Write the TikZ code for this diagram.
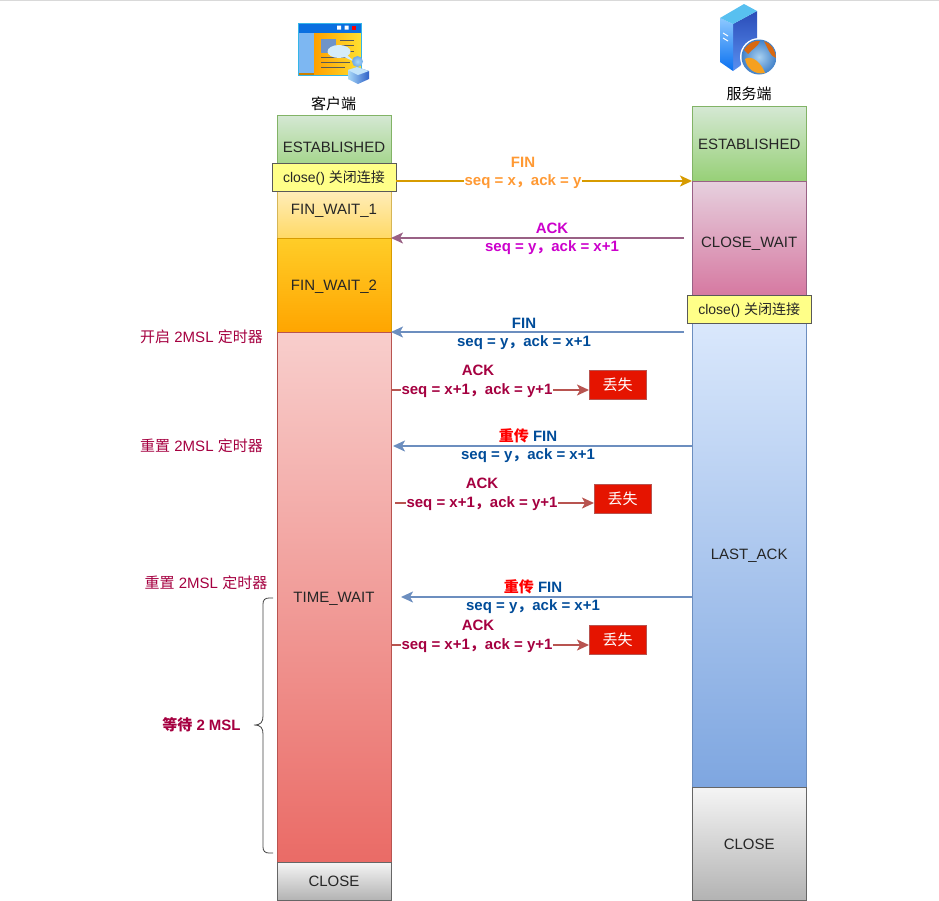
\documentclass[tikz,border=0pt]{standalone}
\usepackage{fontspec}
\setmainfont{Liberation Sans}
\newfontfamily\cjk{Noto Sans CJK SC}
\usetikzlibrary{arrows.meta,calc}
\definecolor{ackred}{HTML}{A50040}
\definecolor{finblue}{HTML}{004C99}
\definecolor{myyellow}{HTML}{FFFF88}
\definecolor{b85}{HTML}{B85450}
\definecolor{lostred}{HTML}{E51400}
\definecolor{finor}{HTML}{FF9933}
\definecolor{ackm}{HTML}{CC00CC}
\definecolor{gA}{HTML}{D5E8D4}\definecolor{gB}{HTML}{97D077}\definecolor{gC}{HTML}{82B366}
\definecolor{yA}{HTML}{FFF2CC}\definecolor{yB}{HTML}{FFD966}\definecolor{yC}{HTML}{D6B656}
\definecolor{oA}{HTML}{FFCD28}\definecolor{oB}{HTML}{FFA500}\definecolor{oC}{HTML}{D79B00}
\definecolor{rA}{HTML}{F8CECC}\definecolor{rB}{HTML}{EA6B66}
\definecolor{kA}{HTML}{F5F5F5}\definecolor{kB}{HTML}{B3B3B3}\definecolor{kC}{HTML}{666666}
\definecolor{pA}{HTML}{E6D0DE}\definecolor{pB}{HTML}{D5739D}\definecolor{pC}{HTML}{996185}
\definecolor{bA}{HTML}{DAE8FC}\definecolor{bB}{HTML}{7EA6E0}\definecolor{bC}{HTML}{6C8EBF}
\definecolor{winbar}{HTML}{0A6FE0}\definecolor{winside}{HTML}{7DB7F2}\definecolor{winline}{HTML}{35B5E8}
\definecolor{winor}{HTML}{FFA000}\definecolor{winyl}{HTML}{FFE030}\definecolor{winpic}{HTML}{6F94C8}
\definecolor{bubble}{HTML}{D5ECF8}\definecolor{pHead}{HTML}{6FA8E8}\definecolor{pBodyA}{HTML}{A8D8F8}\definecolor{pBodyB}{HTML}{2F62C8}
\definecolor{srvA}{HTML}{2A4CB8}\definecolor{srvB}{HTML}{5A90F0}\definecolor{srvC}{HTML}{8CC8FF}\definecolor{srvD}{HTML}{0A70F0}\definecolor{srvT}{HTML}{58C0F0}
\definecolor{globeA}{HTML}{A8D0F0}\definecolor{globeB}{HTML}{4080C8}\definecolor{land}{HTML}{F5A020}\definecolor{landd}{HTML}{D86810}
\tikzset{
 blk/.style n args={3}{draw=#3,top color=#1,bottom color=#2,line width=.8pt,inner sep=0pt,outer sep=0pt,minimum width=114pt,anchor=north west,font=\fontsize{15}{17}\selectfont,text=black!85,text height=11pt,text depth=0pt},
 closebox/.style={draw=black!65,fill=myyellow,line width=.8pt,minimum width=124pt,minimum height=28pt,inner sep=0pt,outer sep=0pt,font=\fontsize{14}{16}\selectfont,text=black!85,text height=11pt,text depth=0pt},
 lost/.style={draw=b85,fill=lostred,text=white,minimum width=57pt,minimum height=29pt,inner sep=0pt,outer sep=0pt,font=\fontsize{15}{16}\selectfont},
 lab/.style={font=\fontsize{15}{16}\selectfont\bfseries,inner sep=0pt,outer sep=0pt,text height=11pt,text depth=0pt},
 seqlab/.style={lab,fill=white,inner xsep=1pt,text height=11pt,text depth=3pt},
 side/.style={font=\fontsize{15}{16}\selectfont,text=ackred,inner sep=0pt,text height=11pt,text depth=0pt},
 arr/.style={draw=#1,line width=1.7pt,-{Stealth[length=12pt,width=11pt,inset=3pt]}},
}
\begin{document}
\begin{tikzpicture}[x=1pt,y=-1pt]
\useasboundingbox (0,0) rectangle (939,900);
\draw[black!15,line width=1.2pt] (0,0) -- (939,0);
% client icon
\shade[left color=winor,right color=winyl] (314,33) rectangle (361,75);
\fill[winbar] (298,23) rectangle (361,33);
\fill[winside] (299,33) rectangle (314,73);
\fill[winor!80!black] (299,73) rectangle (314,75);
\draw[winline,line width=1pt] (298.5,23) rectangle (361,75.5);
\fill[white] (337,25.5) rectangle (341,29.5) (344.5,25.5) rectangle (348.5,29.5);
\fill[red] (352,25.5) rectangle (356,29.5);
\fill[winpic] (321,39) rectangle (336,53);
\draw[gray!70!black,line width=1pt] (340,40) -- (354,40) (342,45) -- (354,45) (350,51) -- (354,51) (321,62) -- (350,62) (321,67) -- (345,67) (321,57) -- (346,57);
\fill[bubble] (339,51.5) ellipse (11.5pt and 6.5pt);
\fill[bubble] (342,56) -- (355,62) -- (347,55) -- cycle;
\shade[left color=pBodyA,right color=pBodyB] (348,70) -- (357,67) -- (369,71) -- (369,79) -- (358,84) -- (348,79) -- cycle;
\fill[pBodyA!70!white] (348,70) -- (357,67) -- (369,71) -- (358,75) -- cycle;
\shade[inner color=pBodyA,outer color=pHead] (357.5,61.5) circle (5.5pt);
% server icon
\shade[top color=srvA,bottom color=srvB] (733,24) -- (757,11) -- (757,43) -- (740,66) -- (733,71) -- cycle;
\shade[top color=srvC,bottom color=srvD] (720,18) -- (733,24) -- (733,71) -- (720,62) -- cycle;
\fill[srvT] (720,18) -- (744,4) -- (757,11) -- (733,24) -- cycle;
\draw[white,line width=1pt] (723,33) -- (728,36) (723,38) -- (728,41);
\fill[white] (759,57) circle (19pt);
\shade[inner color=globeA,outer color=globeB] (759,57) circle (17.5pt);
\fill[landd] (744,50) .. controls (748,43) and (755,40) .. (760,41) .. controls (758,47) and (752,49) .. (748,54) -- cycle;
\fill[land] (745,59) .. controls (752,54) and (762,64) .. (765,73) .. controls (755,75) and (747,69) .. (745,59) -- cycle;
\fill[landd] (764,41) .. controls (771,43) and (775,50) .. (776,58) .. controls (771,57) and (768,49) .. (764,41) -- cycle;
% titles
\node (clientlbl) at (333.5,104) {\fontsize{15}{16}\selectfont\cjk 客户端};
\node (serverlbl) at (749,94) {\fontsize{15}{16}\selectfont\cjk 服务端};
% client column
\node[blk={gA}{gB}{gC},minimum height=64pt] (cest) at (277,115) {ESTABLISHED};
\node[blk={yA}{yB}{yC},minimum height=58pt] (cfw1) at (277,180) {FIN\_WAIT\_1};
\node[blk={oA}{oB}{oC},minimum height=94pt] (cfw2) at (277,238) {FIN\_WAIT\_2};
\node[blk={rA}{rB}{b85},minimum height=530pt] (ctw) at (277,332) {TIME\_WAIT};
\node[blk={kA}{kB}{kC},minimum height=38pt] (ccl) at (277,862) {CLOSE};
\node[closebox] (cclose) at (334,177) {close() {\cjk 关闭连接}};
% server column
\node[blk={gA}{gB}{gC},minimum height=75pt] (sest) at (692.2,106) {ESTABLISHED};
\node[blk={pA}{pB}{pC},minimum height=122pt] (scw) at (692.2,181) {CLOSE\_WAIT};
\node[blk={bA}{bB}{bC},minimum height=466pt] (sla) at (692.2,321) {LAST\_ACK};
\node[blk={kA}{kB}{kC},minimum height=113pt] (scl) at (692.2,787) {CLOSE};
\node[closebox] (sclose) at (749.2,309) {close() {\cjk 关闭连接}};
% lost boxes
\node[lost] (l1) at (617.5,384.5) {\cjk 丢失};
\node[lost] (l2) at (622.5,498.5) {\cjk 丢失};
\node[lost] (l3) at (617.5,639.5) {\cjk 丢失};
% free ends of connectors
\coordinate (a1s) at (396,181); \coordinate (a1e) at (692,181);
\coordinate (a2s) at (684,238); \coordinate (a2e) at (391,238);
\coordinate (a3s) at (684,332); \coordinate (a3e) at (391,332);
\coordinate (a4s) at (391,390); \coordinate (a4e) at (589,390);
\coordinate (a5s) at (692,446); \coordinate (a5e) at (393,446);
\coordinate (a6s) at (395,503); \coordinate (a6e) at (594,503);
\coordinate (a7s) at (692,597); \coordinate (a7e) at (401,597);
\coordinate (a8s) at (391,645); \coordinate (a8e) at (589,645);
\draw[arr=oC] (a1s) -- (a1e);
\draw[arr=pC] (a2s) -- (a2e);
\draw[arr=bC] (a3s) -- (a3e);
\draw[arr=b85] (a4s) -- (a4e);
\draw[arr=bC] (a5s) -- (a5e);
\draw[arr=b85] (a6s) -- (a6e);
\draw[arr=bC] (a7s) -- (a7e);
\draw[arr=b85] (a8s) -- (a8e);
% labels
\node[seqlab,text=finor] (t1b) at (523,181) {seq = x{\cjk ，}ack = y};
\node[lab,text=finor] (t1a) at (523,161.5) {FIN};
\node[seqlab,text=ackm] (t2b) at (552,247) {seq = y{\cjk ，}ack = x+1};
\node[lab,text=ackm] (t2a) at (552,228) {ACK};
\node[seqlab,text=finblue] (t3b) at (524,342) {seq = y{\cjk ，}ack = x+1};
\node[lab,text=finblue] (t3a) at (524,322.5) {FIN};
\node[seqlab,text=ackred] (t4b) at (477,390) {seq = x+1{\cjk ，}ack = y+1};
\node[lab,text=ackred] (t4a) at (478,370) {ACK};
\node[seqlab,text=finblue] (t5b) at (528,455.5) {seq = y{\cjk ，}ack = x+1};
\node[lab,text=finblue] (t5a) at (528,436) {{\cjk\color{red}重传} FIN};
\node[seqlab,text=ackred] (t6b) at (482,503) {seq = x+1{\cjk ，}ack = y+1};
\node[lab,text=ackred] (t6a) at (482,483) {ACK};
\node[seqlab,text=finblue] (t7b) at (533,606.5) {seq = y{\cjk ，}ack = x+1};
\node[lab,text=finblue] (t7a) at (533,587) {{\cjk\color{red}重传} FIN};
\node[seqlab,text=ackred] (t8b) at (477,645) {seq = x+1{\cjk ，}ack = y+1};
\node[lab,text=ackred] (t8a) at (478,625) {ACK};
% side labels
\node[side] (s1) at (201.5,337) {{\cjk 开启} 2MSL {\cjk 定时器}};
\node[side] (s2) at (201.5,446) {{\cjk 重置} 2MSL {\cjk 定时器}};
\node[side] (s3) at (206,582.5) {{\cjk 重置} 2MSL {\cjk 定时器}};
\node[lab,text=ackred] (s4) at (201.5,725) {{\cjk 等待} 2 MSL};
% brace
\coordinate (bt) at (273,598); \coordinate (bm) at (254,725); \coordinate (bb) at (273,853);
\draw[black!75,line width=.8pt] (bt) -- (269,598) .. controls (265,598) and (263,600) .. (263,604) -- (263,716) .. controls (263,722) and (261,725) .. (bm) .. controls (261,725) and (263,728) .. (263,734) -- (263,847) .. controls (263,851) and (265,853) .. (269,853) -- (bb);
\end{tikzpicture}
\end{document}
